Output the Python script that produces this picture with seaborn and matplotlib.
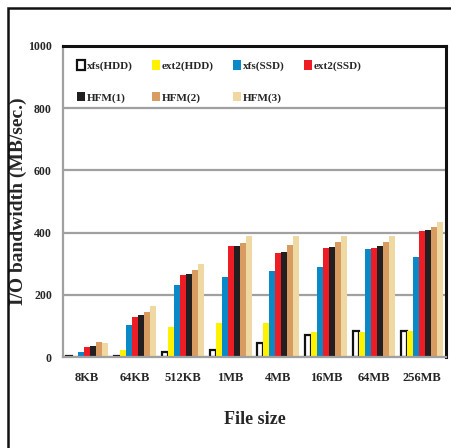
"""I/O bandwidth by file size for xfs/ext2 and HFM configurations."""
import matplotlib
matplotlib.use("Agg")
import matplotlib.pyplot as plt
from matplotlib.patches import Patch, Rectangle
import pandas as pd
import seaborn as sns

file_sizes = ["8KB", "64KB", "512KB", "1MB", "4MB", "16MB", "64MB", "256MB"]
xfs_hdd = [4, 4, 16, 24, 44, 72, 82, 85]
ext2_hdd = [1, 21, 97, 108, 108, 80, 80, 84]
xfs_ssd = [15, 104, 233, 258, 278, 289, 348, 322]
ext2_ssd = [32, 129, 264, 357, 336, 350, 350, 406]
hfm1 = [36, 136, 267, 357, 339, 354, 356, 409]
hfm2 = [49, 145, 280, 368, 360, 370, 370, 418]
hfm3 = [46, 165, 300, 390, 390, 390, 390, 435]

series = {
    "xfs(HDD)": xfs_hdd,
    "ext2(HDD)": ext2_hdd,
    "xfs(SSD)": xfs_ssd,
    "ext2(SSD)": ext2_ssd,
    "HFM(1)": hfm1,
    "HFM(2)": hfm2,
    "HFM(3)": hfm3,
}
colors = ["#FFFFFF", "#FFF200", "#0A88C8", "#EE1C25", "#231F20", "#D89B62", "#F0D8A2"]

rows = []
for name, vals in series.items():
    for size, v in zip(file_sizes, vals):
        rows.append({"size": size, "fs": name, "bw": v})
data = pd.DataFrame(rows)

sns.set_style("white")
plt.rcParams["font.family"] = ["Liberation Serif", "DejaVu Serif"]
plt.rcParams["font.weight"] = "bold"

fig = plt.figure(figsize=(4.51, 4.48), dpi=100)
ax = fig.add_axes([63 / 451, 1 - 357 / 448, 383 / 451, 311 / 448])

sns.barplot(data=data, x="size", y="bw", hue="fs", order=file_sizes,
            hue_order=list(series), palette=colors, width=0.875,
            saturation=1, linewidth=0, ax=ax, legend=False)

for bar in ax.containers[0]:
    bar.set_edgecolor("#111111")
    bar.set_linewidth(1.6)

ax.set_ylim(0, 1000)
ax.set_xlim(-0.5, 7.5)
ax.set_yticks([0, 200, 400, 600, 800, 1000])
ax.yaxis.grid(True, color="#A0A0A0", linewidth=1.6)
ax.set_axisbelow(True)
ax.tick_params(axis="y", length=3, color="#A0A0A0", labelsize=8.5, pad=5)
ax.set_xticks(range(8))
ax.set_xticklabels(file_sizes)
ax.tick_params(axis="x", length=0, labelsize=9, pad=11)
ax.set_xticks([i + 0.5 for i in range(-1, 8)], minor=True)
ax.tick_params(axis="x", which="minor", length=4, color="#A0A0A0", width=1.2)

for side in ["top", "right"]:
    ax.spines[side].set_color("#111111")
    ax.spines[side].set_linewidth(2.2)
for side in ["left", "bottom"]:
    ax.spines[side].set_color("#A0A0A0")
    ax.spines[side].set_linewidth(1.6)

ax.set_ylabel("I/O bandwidth (MB/sec.)", fontsize=14, fontweight="bold")
ax.yaxis.set_label_coords(-0.095, 0.5)
ax.set_xlabel("File size", fontsize=13, fontweight="bold")
ax.xaxis.set_label_coords(0.5, -0.175)
ax.xaxis.label.set_va("top")

# legend filled row by row: 4 entries on the first row, 3 on the second
names = list(series)
handles = [Patch(facecolor=c, edgecolor="#111111" if i == 0 else c,
                 linewidth=1.6 if i == 0 else 0)
           for i, c in enumerate(colors)]
order = [0, 4, 1, 5, 2, 6, 3]
ax.legend([handles[i] for i in order], [names[i] for i in order],
          loc="upper left", bbox_to_anchor=(0.0, 1.0), ncol=4, frameon=False,
          fontsize=8, handlelength=0.7, handleheight=0.9, handletextpad=0.15,
          columnspacing=1.75, labelspacing=1.9, borderaxespad=0.9)

# outer figure frame (left and top edges visible)
fig.add_artist(Rectangle((8 / 451, -0.05), 1.1, 1 - 8 / 448 + 0.05,
                         transform=fig.transFigure, fill=False,
                         edgecolor="#111111", linewidth=1.8))

fig.savefig("out.png", dpi=100)
